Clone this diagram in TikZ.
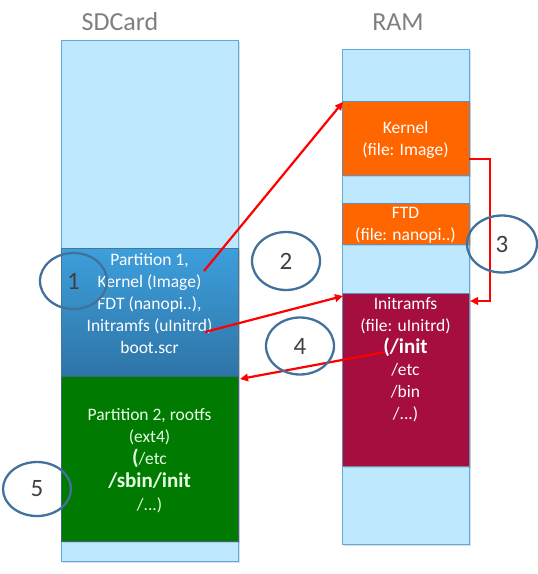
\documentclass[tikz,border=0pt]{standalone}
\usepackage{fontspec}
\setmainfont{Carlito}
\usetikzlibrary{arrows.meta,shadows,shapes.geometric}
\definecolor{lightb}{HTML}{BDE8FD}
\definecolor{bord}{HTML}{62A8D9}
\definecolor{p1top}{HTML}{3D9FDC}
\definecolor{p1bot}{HTML}{2E74A6}
\definecolor{grn}{HTML}{007A00}
\definecolor{orng}{HTML}{FF6600}
\definecolor{crim}{HTML}{A50E3E}
\definecolor{ellc}{HTML}{41719C}
\definecolor{ttl}{HTML}{7F7F7F}
\definecolor{num}{HTML}{404040}
\definecolor{arr}{HTML}{FF0000}
\tikzset{
  column/.style={draw=bord, fill=lightb, line width=1.2pt, inner sep=0pt, anchor=north west,
    drop shadow={shadow xshift=1pt, shadow yshift=-1.5pt, opacity=0.25}},
  part/.style={draw=ellc!80, line width=1pt, inner sep=0pt, anchor=north west,
    drop shadow={shadow xshift=1pt, shadow yshift=-1.5pt, opacity=0.25}},
  txt/.style={text=white, align=center, inner sep=0pt, font=\fontsize{17.5}{22}\selectfont},
  ttlstyle/.style={text=ttl, inner sep=0pt, font=\fontsize{26}{30}\selectfont},
  numell/.style={ellipse, draw=ellc, line width=2.3pt, inner sep=0pt, text=num,
    font=\fontsize{25}{28}\selectfont},
  redarrow/.style={draw=arr, line width=2.2pt, -{Triangle[length=8pt,width=7.5pt]}}
}
\newcommand{\bigb}[1]{{\fontsize{21}{22}\selectfont\bfseries #1}}
\begin{document}
\begin{tikzpicture}[x=1pt,y=-1pt]
\useasboundingbox (0,0) rectangle (538,574);
% titles
\node[ttlstyle] (tsd) at (120,22) {SDCard};
\node[ttlstyle] (tram) at (398,22) {RAM};
% SD card column
\node[column, minimum width=177pt, minimum height=521pt] (sd) at (61,40) {};
\node[part, draw=bord!70!black, top color=p1top, bottom color=p1bot, minimum width=177pt, minimum height=128pt] (p1) at (61,248) {};
\node[part, draw=bord!60!black, fill=grn, minimum width=177pt, minimum height=165pt] (p2) at (61,376) {};
% RAM column
\node[column, minimum width=127pt, minimum height=495pt] (ram) at (342,49) {};
\node[part, fill=orng, minimum width=127pt, minimum height=74pt] (kern) at (342,101) {};
\node[part, fill=orng, minimum width=127pt, minimum height=41pt] (ftd) at (342,203) {};
\node[part, fill=crim, minimum width=127pt, minimum height=173pt] (initr) at (342,293) {};
% texts
\node[txt] (p1t) at (149.5,304) {Partition 1,\\Kernel (Image)\\FDT (nanopi..),\\Initramfs (uInitrd)\\boot.scr};
\node[txt, text=white!90!green] (p2t) at (149.5,461) {Partition 2, rootfs\\(ext4)\\\bigb{(}/etc\\[1pt]\bigb{/sbin/init}\\[1pt]/...)};
\node[txt] (kt) at (405.5,140) {Kernel\\(file: Image)};
\node[txt] (ft) at (405.5,225) {FTD\\(file: nanopi..)};
\node[txt] (it) at (405.5,360) {Initramfs\\(file: uInitrd)\\\bigb{(/init}\\/etc\\/bin\\/...)};
% connector end points
\coordinate (a1) at (204,271);
\coordinate (b1) at (205,332);
\coordinate (c1) at (469,159);
\coordinate (c2) at (490,159);
\coordinate (c3) at (490,301);
\coordinate (c4) at (470,301);
\coordinate (d1) at (385,352);
% arrows
\draw[redarrow] (a1) -- ([xshift=1pt,yshift=-1pt]kern.north west);
\draw[redarrow] (b1) -- ([xshift=1pt,yshift=-3pt]initr.north west);
\draw[redarrow] (c1) -- (c2) -- (c3) -- (c4);
\draw[redarrow] (d1) -- ([xshift=1pt,yshift=-3pt]p2.north east);
% numbered ellipses
\node[numell, minimum width=67pt, minimum height=56pt] (e1) at (73.5,281) {1};
\node[numell, minimum width=68pt, minimum height=58pt] (e2) at (286,261) {2};
\node[numell, minimum width=70pt, minimum height=57pt] (e3) at (502,244) {3};
\node[numell, minimum width=68pt, minimum height=57pt] (e4) at (300,346) {4};
\node[numell, minimum width=68pt, minimum height=54pt] (e5) at (37,489) {5};
\end{tikzpicture}
\end{document}
